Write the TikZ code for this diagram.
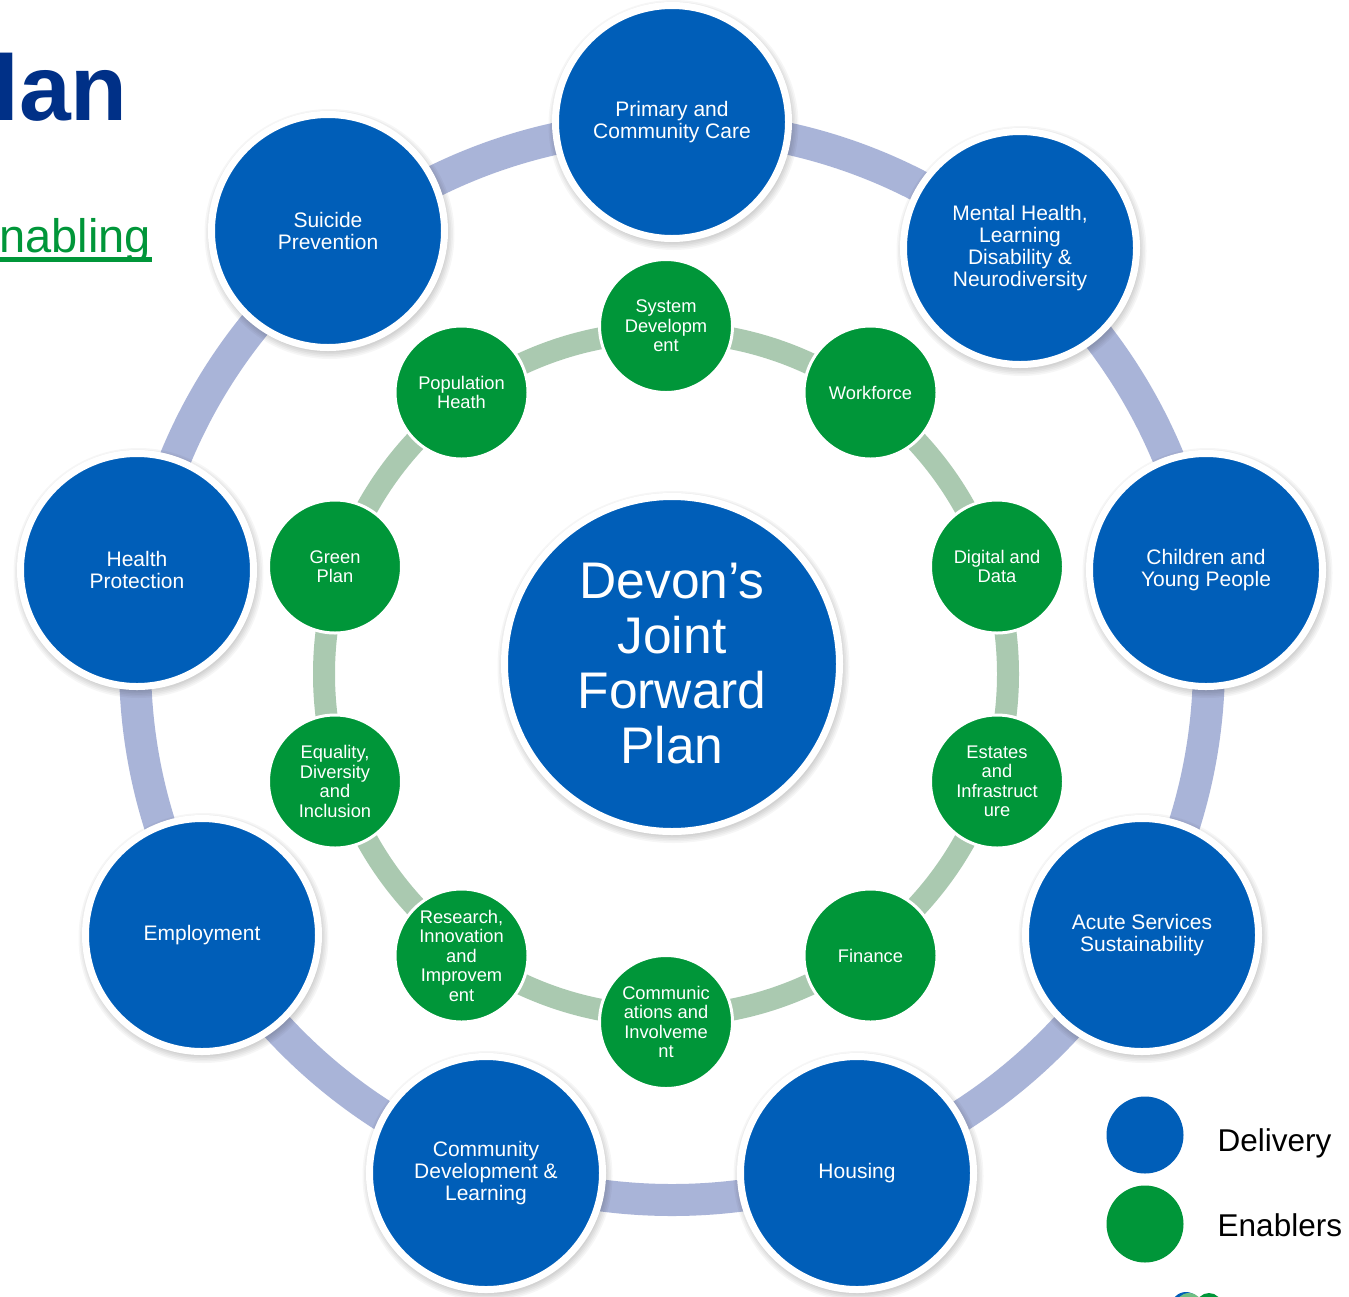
\documentclass[tikz,border=0pt]{standalone}
\usepackage{fontspec}
\setmainfont{Liberation Sans}
\definecolor{nhsblue}{RGB}{0,94,184}
\definecolor{nhsgreen}{RGB}{0,150,57}
\definecolor{ringblue}{RGB}{169,180,216}
\definecolor{ringgreen}{RGB}{170,201,176}
\definecolor{navytitle}{RGB}{0,48,135}
\definecolor{logolight}{RGB}{110,190,130}
\pgfdeclarelayer{bglayer}
\pgfdeclarelayer{ringlayer}
\pgfdeclarelayer{shadowlayer}
\pgfsetlayers{bglayer,ringlayer,shadowlayer,main}
\begin{document}
\begin{tikzpicture}[x=1pt,y=-1pt,
  delivery/.style={circle, fill=nhsblue, draw=white, line width=7pt,
    minimum size=233pt, inner sep=0pt, align=center, text=white,
    font=\fontsize{21}{22.2}\selectfont},
  enabler/.style={circle, fill=nhsgreen, draw=white, line width=3pt,
    minimum size=133pt, inner sep=0pt, align=center, text=white,
    font=\fontsize{18.3}{19.5}\selectfont},
  hubnode/.style={circle, fill=nhsblue, draw=white, line width=7pt,
    minimum size=335pt, inner sep=0pt, align=center, text=white,
    font=\fontsize{51.5}{55}\selectfont},
  legendcirc/.style={circle, inner sep=0pt, minimum size=77pt},
  legendtext/.style={anchor=base west, inner sep=0pt, text=black,
    font=\fontsize{31.5}{36}\selectfont},
  bluering/.style={draw=ringblue, line width=32pt},
  greenring/.style={draw=ringgreen, line width=22pt},
  shadowfill/.style={fill=black, opacity=0.035}
]
\useasboundingbox (0,0) rectangle (1349,1296);
\begin{pgfonlayer}{bglayer}
  \fill[white] (0,0) rectangle (1349,1296);
\end{pgfonlayer}

% title fragments
\node[anchor=base west, inner sep=0pt, text=navytitle,
  font=\fontsize{93}{100}\selectfont\bfseries] (title) at (-7,120) {lan};
\node[anchor=base west, inner sep=0pt, text=nhsgreen,
  font=\fontsize{47}{50}\selectfont] (sub) at (-1,252) {nabling};
\fill[nhsgreen] (0,257) rectangle (152,261.5);

% centres of the rings
\coordinate (outerc) at (672,663);
\coordinate (innerc) at (666,674);

% hub
\node[hubnode] (hub) at (672,664) {Devon’s\\Joint\\Forward\\Plan};

% delivery circles
\node[delivery] (pc)  at (672,122)  {Primary and\\Community Care};
\node[delivery] (mh)  at (1020,248) {Mental Health,\\Learning\\Disability \&\\Neurodiversity};
\node[delivery] (cyp) at (1206,570) {Children and\\Young People};
\node[delivery] (acs) at (1142,935) {Acute Services\\Sustainability};
\node[delivery] (hou) at (857,1173) {Housing};
\node[delivery] (cdl) at (486,1173) {Community\\Development \&\\Learning};
\node[delivery] (emp) at (202,935)  {Employment};
\node[delivery] (hp)  at (137,570)  {Health\\Protection};
\node[delivery] (sp)  at (328,231)  {Suicide\\Prevention};

% enabler circles
\node[enabler] (sd)  at (666,326)     {System\\Developm\\ent};
\node[enabler] (wf)  at (870.5,392.5) {Workforce};
\node[enabler] (dd)  at (997,566.5)   {Digital and\\Data};
\node[enabler] (est) at (997,781.5)   {Estates\\and\\Infrastruct\\ure};
\node[enabler] (fin) at (870.5,955.5) {Finance};
\node[enabler] (com) at (666,1022)    {Communic\\ations and\\Involveme\\nt};
\node[enabler] (rii) at (461.5,955.5) {Research,\\Innovation\\and\\Improvem\\ent};
\node[enabler] (edi) at (335,781.5)   {Equality,\\Diversity\\and\\Inclusion};
\node[enabler] (gp)  at (335,566.5)   {Green\\Plan};
\node[enabler] (ph)  at (461.5,392.5) {Population\\Heath};

% rings behind the circles
\begin{pgfonlayer}{ringlayer}
  \draw[bluering] (outerc) circle[radius=537];
  \draw[greenring] (innerc) circle[radius=342];
\end{pgfonlayer}

% soft shadows
\begin{pgfonlayer}{shadowlayer}
  \foreach \n in {pc,mh,cyp,acs,hou,cdl,emp,hp,sp}{
    \foreach \k in {1,...,5}{
      \fill[shadowfill] ([shift={(1.5,3)}]\n.center) circle[radius=117+\k*1.6];
    }
  }
  \foreach \k in {1,...,5}{
    \fill[shadowfill] ([shift={(1.5,3)}]hub.center) circle[radius=168+\k*1.6];
  }
\end{pgfonlayer}

% legend
\node[legendcirc, fill=nhsblue]  (legd) at (1145,1135) {};
\node[legendcirc, fill=nhsgreen] (lege) at (1145,1224) {};
\node[legendtext] (legdt) at (1217.5,1151) {Delivery};
\node[legendtext] (leget) at (1217.5,1236) {Enablers};

% logo fragment at the bottom edge
\fill[nhsblue] (1186,1307) circle[radius=15];
\fill[logolight] (1189,1307) circle[radius=14];
\fill[nhsgreen] (1209,1306) circle[radius=13];
\end{tikzpicture}
\end{document}
